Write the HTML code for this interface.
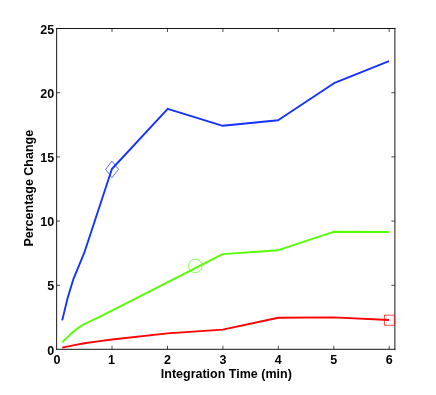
<!DOCTYPE html>
<html><head><meta charset="utf-8"><title>Percentage Change vs Integration Time</title>
<style>
html,body{margin:0;padding:0;background:#fff;}
body{width:436px;height:395px;overflow:hidden;}
svg{display:block;will-change:transform;}
text{font-family:"Liberation Sans",sans-serif;font-weight:bold;font-size:12.5px;fill:#000;}
</style></head><body>
<svg width="436" height="395" viewBox="0 0 436 395">
<rect width="436" height="395" fill="#fff"/>
<!-- axes box -->
<g stroke="#151515" stroke-width="1" fill="none" stroke-linecap="butt">
<line x1="56.65" y1="28" x2="56.65" y2="349.8"/>
<line x1="56.15" y1="349.3" x2="395.4" y2="349.3"/>
<line x1="56.15" y1="28.5" x2="395.4" y2="28.5"/>
<line x1="394.9" y1="28" x2="394.9" y2="349.8" stroke-width="1"/>
</g>
<!-- ticks -->
<g stroke="#000" stroke-width="0.7" fill="none">
<!-- bottom -->
<path d="M112 349.3v-3.5M167.5 349.3v-3.5M222.9 349.3v-3.5M278.3 349.3v-3.5M333.8 349.3v-3.5M389.2 349.3v-3.5"/>
<!-- top -->
<path d="M112 28.5v3.5M167.5 28.5v3.5M222.9 28.5v3.5M278.3 28.5v3.5M333.8 28.5v3.5M389.2 28.5v3.5"/>
<!-- left -->
<path d="M56.65 92.7h3.4M56.65 156.9h3.4M56.65 221.05h3.4M56.65 285.3h3.4"/>
<!-- right -->
<path d="M394.9 92.7h-3.5M394.9 156.9h-3.5M394.9 221.05h-3.5M394.9 285.3h-3.5"/>
</g>
<!-- data -->
<g fill="none" stroke-width="1.9" stroke-linejoin="round" stroke-linecap="butt">
<polyline stroke="#1533ff" points="62.2,320.4 67.7,297.7 73.5,278.8 84.3,252.7 111.9,169 167.7,108.8 222.8,125.8 278.1,120.3 334,83.2 389,61.2"/>
<polyline stroke="#55ff00" points="62.2,342.3 64.9,339.6 67.7,337.1 70.4,334.3 73.2,331.8 78.7,327.6 84.3,324 98,317.6 112,310.6 222.6,254.1 278.3,250.2 333.6,231.8 389.1,232"/>
<polyline stroke="#ff0000" points="62.2,347.6 73.2,345.4 84.3,343.3 98,341.4 112,339.5 167.4,333.4 222.7,329.6 278.3,317.7 333.2,317.4 389.1,320"/>
</g>
<!-- markers -->
<g fill="none" stroke-width="0.7">
<path d="M105.6 169.4L111.9 161.1L118.6 169.4L111.9 177.7Z" stroke="#1533ff"/>
<ellipse cx="195.3" cy="265.9" rx="6.7" ry="6.8" stroke="#55ff00"/>
<rect x="384.3" y="315.1" width="9.9" height="10.1" stroke="#ff0000"/>
</g>
<!-- y tick labels -->
<g text-anchor="end">
<text x="54.2" y="33.5">25</text>
<text x="54.2" y="97.7">20</text>
<text x="54.2" y="161.8">15</text>
<text x="54.2" y="226">10</text>
<text x="54.2" y="290.1">5</text>
<text x="54.2" y="355">0</text>
</g>
<!-- x tick labels -->
<g text-anchor="middle">
<text x="57" y="363.8">0</text>
<text x="111.4" y="363.8">1</text>
<text x="167.5" y="363.8">2</text>
<text x="222.9" y="363.8">3</text>
<text x="278.3" y="363.8">4</text>
<text x="333.8" y="363.8">5</text>
<text x="389.2" y="363.8">6</text>
</g>
<text x="226.3" y="377.5" text-anchor="middle">Integration Time (min)</text>
<text transform="translate(33.3,188.2) rotate(-90)" text-anchor="middle">Percentage Change</text>
</svg>
</body></html>
